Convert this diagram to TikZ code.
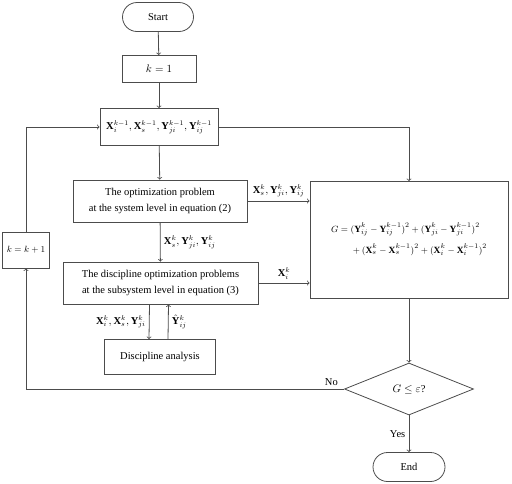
\documentclass[tikz,border=0pt]{standalone}
\usepackage{amsmath}
\usepackage{fontspec}
\setmainfont{Liberation Serif}
\usetikzlibrary{shapes.geometric}

\begin{document}
\begin{tikzpicture}[x=1pt,y=-1pt,line width=0.8pt,
   font=\fontsize{10.5}{16}\selectfont,
   box/.style n args={2}{rectangle,draw=black!70,minimum width=#1pt,minimum height=#2pt,inner sep=0pt,align=center},
   term/.style={box={#1}{29},rounded corners=14.5pt},
   test/.style={diamond,draw=black!70,minimum width=129pt,minimum height=52pt,inner sep=0pt},
   flow/.style={draw=black!70,->}]
\useasboundingbox (0,0) rectangle (512,483);
\node[term=71] (start) at (158,17) {Start};
\node[box={74}{27}] (kone) at (159,69) {$k = 1$};
\node[box={118}{37}] (xprev) at (159,127)
   {$\mathbf{X}_i^{k-1}, \mathbf{X}_s^{k-1}, \mathbf{Y}_{ji}^{k-1}, \mathbf{Y}_{ij}^{k-1}$};
\node[box={174}{42}] (sysopt) at (160,201)
   {The optimization problem\\at the system level in equation (2)};
\node[box={195}{42}] (disopt) at (160.5,283)
   {The discipline optimization problems\\at the subsystem level in equation (3)};
\node[box={111}{35}] (ana) at (160,357) {Discipline analysis};
\node[box={198}{117},font=\fontsize{9.5}{14}\selectfont] (gbox) at (409,240) {$\begin{aligned}
   G = {}&(\mathbf{Y}_{ij}^k - \mathbf{Y}_{ij}^{k-1})^2 + (\mathbf{Y}_{ji}^k - \mathbf{Y}_{ji}^{k-1})^2\\[4pt]
   &+ (\mathbf{X}_s^k - \mathbf{X}_s^{k-1})^2 + (\mathbf{X}_i^k - \mathbf{X}_i^{k-1})^2
   \end{aligned}$};
\node[box={47}{36},font=\fontsize{9.5}{11}\selectfont] (kinc) at (26,250) {$k = k + 1$};
\node[test] (check) at (409,389) {$G \leq \varepsilon$?};
\node[term=72] (stop) at (409,467) {End};
\draw[flow] (start) -- (kone);
\draw[flow] (kone) -- (xprev);
\draw[flow] (xprev) -- (sysopt);
\draw[flow] (xprev.east) -| (gbox.north);
\draw[flow] (sysopt.east) -- (sysopt.east -| gbox.west)
   node[midway,above] {$\mathbf{X}_s^k, \mathbf{Y}_{ji}^k, \mathbf{Y}_{ij}^k$};
\draw[flow] (sysopt) -- (disopt)
   node[midway,right] {$\mathbf{X}_s^k, \mathbf{Y}_{ji}^k, \mathbf{Y}_{ij}^k$};
\draw[flow] (disopt.east) -- (disopt.east -| gbox.west)
   node[midway,above] {$\mathbf{X}_i^k$};
\draw[flow] ([xshift=-11pt]disopt.south) -- ([xshift=-11pt]ana.north)
   node[midway,left] {$\mathbf{X}_i^k, \mathbf{X}_s^k, \mathbf{Y}_{ji}^k$};
\draw[flow] ([xshift=8pt]ana.north) -- ([xshift=8pt]disopt.south)
   node[midway,right] {$\hat{\mathbf{Y}}_{ij}^k$};
\draw[flow] (gbox) -- (check);
\draw[flow] (check.west) -| (kinc.south) node[pos=0.02,above] {No};
\draw[flow] (kinc.north) |- (xprev.west);
\draw[flow] (check) -- (stop) node[midway,left] {Yes};
\end{tikzpicture}
\end{document}
